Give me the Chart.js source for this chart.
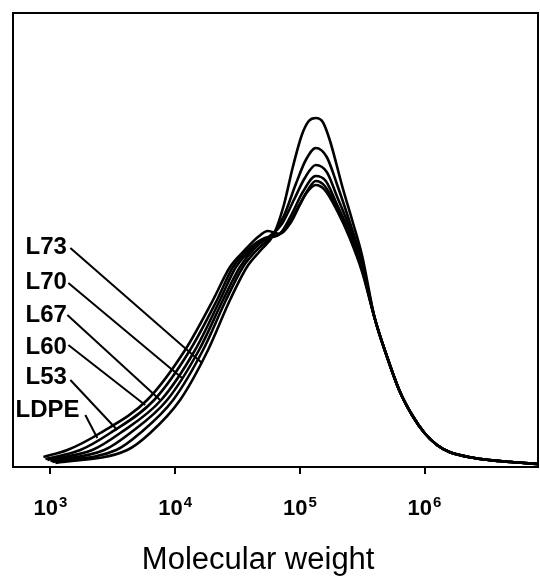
<!DOCTYPE html>
<html>
<head>
<meta charset="utf-8">
<script src="https://cdn.jsdelivr.net/npm/chart.js@4/dist/chart.umd.min.js"></script>
<style>
  html, body { margin: 0; padding: 0; background: #fff; }
  #wrap { width: 540px; height: 577px; position: relative; }
</style>
</head>
<body>
<div id="wrap"><canvas id="gpc"></canvas></div>
<script>
// molecular weight distributions, x = log10(M), y = relative amount (arbitrary units)
const ldpeLg = [2.944, 3.136, 3.400, 3.776, 4.080, 4.304, 4.440, 4.560, 4.664, 4.744, 4.840, 4.920, 5.000, 5.048, 5.128, 5.200, 5.300, 5.400, 5.500];
const ldpeW  = [0.10, 0.17, 0.34, 0.67, 1.17, 1.67, 2.00, 2.17, 2.30, 2.36, 2.33, 2.43, 2.62, 2.73, 2.82, 2.77, 2.56, 2.29, 1.95];

const l53Lg = [2.960, 3.240, 3.480, 3.832, 4.120, 4.336, 4.464, 4.600, 4.720, 4.824, 4.920, 5.000, 5.064, 5.128, 5.200, 5.300, 5.400, 5.500];
const l53W  = [0.08, 0.17, 0.34, 0.67, 1.17, 1.67, 2.00, 2.19, 2.29, 2.32, 2.45, 2.63, 2.77, 2.86, 2.81, 2.59, 2.31, 1.97];

const l60Lg = [2.976, 3.336, 3.560, 3.888, 4.160, 4.360, 4.488, 4.624, 4.744, 4.840, 4.936, 5.024, 5.128, 5.208, 5.300, 5.400, 5.500];
const l60W  = [0.07, 0.17, 0.34, 0.67, 1.17, 1.67, 2.00, 2.19, 2.29, 2.33, 2.53, 2.75, 2.91, 2.86, 2.62, 2.34, 1.99];

const l67Lg = [3.000, 3.432, 3.640, 3.936, 4.192, 4.384, 4.520, 4.648, 4.760, 4.856, 4.952, 5.040, 5.128, 5.216, 5.300, 5.400, 5.500];
const l67W  = [0.06, 0.17, 0.34, 0.67, 1.17, 1.67, 2.00, 2.20, 2.31, 2.43, 2.67, 2.89, 3.02, 2.95, 2.70, 2.39, 2.01];

const l70Lg = [3.016, 3.528, 3.720, 3.984, 4.224, 4.408, 4.544, 4.664, 4.776, 4.872, 4.968, 5.048, 5.128, 5.216, 5.300, 5.400, 5.500];
const l70W  = [0.05, 0.17, 0.34, 0.67, 1.17, 1.67, 2.00, 2.18, 2.31, 2.51, 2.83, 3.07, 3.19, 3.10, 2.82, 2.45, 2.05];

const l73Lg = [3.040, 3.616, 3.800, 4.040, 4.264, 4.440, 4.576, 4.688, 4.792, 4.872, 4.944, 5.016, 5.072, 5.128, 5.184, 5.240, 5.344, 5.424, 5.500];
const l73W  = [0.04, 0.17, 0.34, 0.67, 1.17, 1.67, 2.00, 2.17, 2.33, 2.62, 3.00, 3.32, 3.46, 3.49, 3.45, 3.27, 2.79, 2.45, 2.11];

// high molecular weight side, all samples overlap here
const tailLg = [5.6, 5.7, 5.8, 5.9, 6.0, 6.1, 6.2, 6.4, 6.6, 6.8, 6.904];
const tailW  = [1.49, 1.10, 0.76, 0.52, 0.34, 0.22, 0.15, 0.09, 0.06, 0.04, 0.03];

const tickPowers = [3, 4, 5, 6];

// labels on the left with pointer lines to their curve (text pos, line start, line end)
const labelNames = ['L73', 'L70', 'L67', 'L60', 'L53', 'LDPE'];
const labelLg    = [2.80, 2.80, 2.80, 2.80, 2.80, 2.72];
const labelW     = [2.20, 1.85, 1.52, 1.20, 0.90, 0.57];
const lineFromLg = [3.16, 3.144, 3.136, 3.144, 3.16, 3.28];
const lineFromW  = [2.19, 1.84, 1.52, 1.22, 0.87, 0.52];
const lineToLg   = [4.216, 4.056, 3.88, 3.76, 3.536, 3.376];
const lineToW    = [1.04, 0.89, 0.67, 0.62, 0.37, 0.29];

function toPoints(lg, w) {
    return lg.map((v, i) => ({ x: Math.pow(10, v), y: w[i] }));
}

const curves = [
    toPoints(ldpeLg.concat(tailLg), ldpeW.concat(tailW)),
    toPoints(l53Lg.concat(tailLg), l53W.concat(tailW)),
    toPoints(l60Lg.concat(tailLg), l60W.concat(tailW)),
    toPoints(l67Lg.concat(tailLg), l67W.concat(tailW)),
    toPoints(l70Lg.concat(tailLg), l70W.concat(tailW)),
    toPoints(l73Lg.concat(tailLg), l73W.concat(tailW)),
];

const fontFam = '"Liberation Sans", Arial, sans-serif';

// frame, power-of-ten tick labels, sample labels with pointers, axis title
const extras = {
    id: 'extras',
    afterDraw(chart) {
        const ctx = chart.ctx;
        const a = chart.chartArea;
        const xs = chart.scales.x;
        const ys = chart.scales.y;
        ctx.save();
        ctx.strokeStyle = '#000';
        ctx.fillStyle = '#000';
        ctx.lineWidth = 2;
        ctx.strokeRect(a.left, a.top, a.right - a.left, a.bottom - a.top);

        // 10^n labels under the tick marks
        ctx.textBaseline = 'alphabetic';
        xs.ticks.forEach(t => {
            const p = Math.round(Math.log10(t.value));
            const cx = xs.getPixelForValue(t.value);
            ctx.font = 'bold 22px ' + fontFam;
            const wBase = ctx.measureText('10').width;
            ctx.font = 'bold 15px ' + fontFam;
            const wExp = ctx.measureText(String(p)).width;
            const x0 = cx - (wBase + wExp + 1) / 2;
            ctx.textAlign = 'left';
            ctx.font = 'bold 22px ' + fontFam;
            ctx.fillText('10', x0, a.bottom + 48);
            ctx.font = 'bold 15px ' + fontFam;
            ctx.fillText(String(p), x0 + wBase + 1, a.bottom + 40);
        });

        ctx.lineWidth = 2;
        ctx.font = 'bold 24px ' + fontFam;
        ctx.textBaseline = 'middle';
        ctx.textAlign = 'left';
        labelNames.forEach((name, i) => {
            ctx.fillText(name, xs.getPixelForValue(Math.pow(10, labelLg[i])), ys.getPixelForValue(labelW[i]));
            ctx.beginPath();
            ctx.moveTo(xs.getPixelForValue(Math.pow(10, lineFromLg[i])), ys.getPixelForValue(lineFromW[i]));
            ctx.lineTo(xs.getPixelForValue(Math.pow(10, lineToLg[i])), ys.getPixelForValue(lineToW[i]));
            ctx.stroke();
        });

        ctx.font = '31px ' + fontFam;
        ctx.textAlign = 'center';
        ctx.fillText('Molecular weight', a.left + (a.right - a.left) * 0.467, 560);
        ctx.restore();
    }
};

new Chart(document.getElementById('gpc').getContext('2d'), {
    type: 'line',
    data: {
        datasets: curves.map(pts => ({
            data: pts,
            borderColor: '#000',
            borderWidth: 2.6,
            pointRadius: 0,
            fill: false,
            cubicInterpolationMode: 'monotone',
        })),
    },
    options: {
        responsive: true,
        maintainAspectRatio: false,
        animation: false,
        layout: { padding: { left: 13, top: 13, right: 2, bottom: 0 } },
        plugins: {
            legend: { display: false },
            tooltip: { enabled: false },
        },
        scales: {
            x: {
                type: 'logarithmic',
                min: Math.pow(10, 2.70),
                max: Math.pow(10, 6.91),
                afterBuildTicks: scale => {
                    scale.ticks = tickPowers.map(p => ({ value: Math.pow(10, p) }));
                },
                afterFit: scale => { scale.height = 110; },
                grid: {
                    drawOnChartArea: false,
                    drawTicks: true,
                    tickLength: 7,
                    color: '#000',
                    lineWidth: 2,
                },
                border: { display: true, color: '#000', width: 2 },
                ticks: { display: false },
            },
            y: {
                display: false,
                min: 0,
                max: 4.54,
            },
        },
    },
    plugins: [extras],
});
</script>
</body>
</html>
